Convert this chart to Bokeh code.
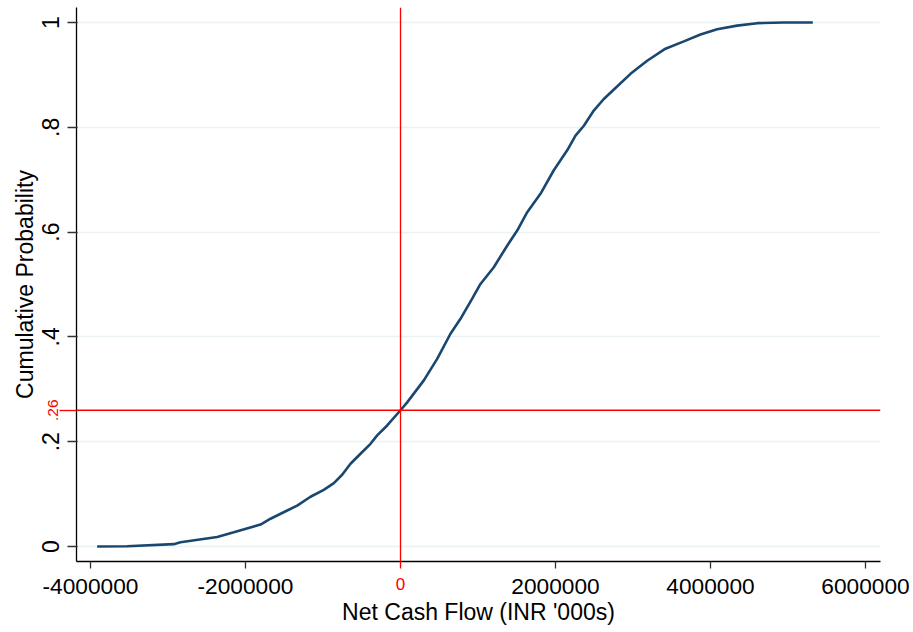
from bokeh.plotting import figure
from bokeh.models import Range1d, FixedTicker, Span, LinearAxis
from bokeh.embed import file_html
from bokeh.resources import INLINE

cash_flow = [-3914000, -3527000, -2925000, -2839000, -2365000, -2151000,
             -1806000, -1677000, -1462000, -1333000, -1161000, -990000,
             -860000, -753000, -645000, -516000, -387000, -301000, -172000,
             0, 86000, 301000, 473000, 645000, 774000, 925000,
             1032000, 1204000, 1376000, 1506000, 1635000, 1806000, 1978000,
             2151000, 2258000, 2366000, 2494000, 2623000, 2774000, 2968000,
             3183000, 3419000, 3656000, 3871000, 4086000, 4344000, 4602000,
             4946000, 5320000]
cum_prob = [0.000, 0.0006, 0.0045, 0.008, 0.018, 0.027,
            0.042, 0.053, 0.0687, 0.078, 0.095, 0.108,
            0.121, 0.137, 0.158, 0.177, 0.196, 0.212, 0.231,
            0.260, 0.275, 0.317, 0.358, 0.406, 0.4345, 0.473,
            0.501, 0.533, 0.574, 0.603, 0.638, 0.673, 0.718,
            0.756, 0.784, 0.803, 0.832, 0.854, 0.875, 0.902,
            0.927, 0.950, 0.964, 0.977, 0.987, 0.994, 0.9987,
            1.000, 1.000]

x_ticks = [-4000000, -2000000, 2000000, 4000000, 6000000]
x_tick_labels = ["-4000000", "-2000000", "2000000", "4000000", "6000000"]
y_ticks = [0, 0.2, 0.4, 0.6, 0.8, 1]
y_tick_labels = ["0", ".2", ".4", ".6", ".8", "1"]
ref_x = 0
ref_x_label = "0"
ref_y = 0.26
ref_y_label = ".26"

FONT = "Liberation Sans"
x0, x1 = -4180645, 6193548
y0, y1 = -0.0286, 1.0286

p = figure(width=913, height=632, output_backend="svg", toolbar_location=None,
           x_range=Range1d(x0, x1), y_range=Range1d(y0, y1),
           min_border_left=76, min_border_right=33, min_border_top=7,
           min_border_bottom=71)
p.outline_line_color = None
p.background_fill_color = "white"
p.border_fill_color = "white"

# grid
p.xgrid.visible = False
p.ygrid.ticker = FixedTicker(ticks=y_ticks)
p.ygrid.grid_line_color = "#eaf2f3"
p.ygrid.grid_line_width = 1.5


def style(ax, size, color):
    ax.minor_tick_line_color = None
    ax.minor_tick_in = 0
    ax.major_label_text_font = FONT
    ax.major_label_text_font_size = size
    ax.major_label_text_color = color
    ax.axis_label_text_font = FONT
    ax.axis_label_text_font_size = "23px"
    ax.axis_label_text_font_style = "normal"
    ax.axis_label_text_color = "black"


# --- axis next to the frame: red reference tick (x = 0) + black axis line
rx = p.xaxis[0]
rx.ticker = FixedTicker(ticks=[ref_x])
rx.major_label_overrides = {ref_x: ref_x_label}
style(rx, "17px", "red")
rx.axis_line_color = "black"
rx.axis_line_width = 1.3
rx.major_tick_line_color = "red"
rx.major_tick_line_width = 1.3
rx.major_tick_in = 0
rx.major_tick_out = 7
rx.minor_tick_out = 7
rx.major_label_standoff = 9
EX = 31  # estimated size of that axis (tick + standoff + label)

# --- main x axis (stacked outside, ticks reach back to the frame)
mx = LinearAxis(ticker=FixedTicker(ticks=x_ticks))
mx.major_label_overrides = {t: l for t, l in zip(x_ticks, x_tick_labels)}
style(mx, "22.7px", "black")
mx.axis_line_color = None
mx.major_tick_line_color = "#333333"
mx.major_tick_line_width = 1.3
mx.major_tick_in = EX
mx.major_tick_out = 7 - EX
mx.minor_tick_out = 7 - EX
mx.major_label_standoff = 17 - EX
mx.axis_label = "Net Cash Flow (INR '000s)"
mx.axis_label_standoff = 2
p.add_layout(mx, "below")

# --- axis next to the frame: red reference tick (y = .26) + black axis line
ry = p.yaxis[0]
ry.ticker = FixedTicker(ticks=[ref_y])
ry.major_label_overrides = {ref_y: ref_y_label}
style(ry, "15.5px", "red")
ry.major_label_orientation = "vertical"
ry.axis_line_color = "black"
ry.axis_line_width = 1.3
ry.major_tick_line_color = "red"
ry.major_tick_line_width = 1.3
ry.major_tick_in = 0
ry.major_tick_out = 17
ry.minor_tick_out = 17
ry.major_label_standoff = 1
EY = 32  # estimated size of that axis

# --- main y axis (stacked outside, ticks reach back to the frame)
my = LinearAxis(ticker=FixedTicker(ticks=y_ticks))
my.major_label_overrides = {t: l for t, l in zip(y_ticks, y_tick_labels)}
style(my, "23px", "black")
my.major_label_orientation = "vertical"
my.axis_line_color = None
my.major_tick_line_color = "#333333"
my.major_tick_line_width = 1.3
my.major_tick_in = EY
my.major_tick_out = 10 - EY
my.minor_tick_out = 10 - EY
my.major_label_standoff = 18 - EY
my.axis_label = "Cumulative Probability"
my.axis_label_standoff = 2
p.add_layout(my, "left")

# CDF curve
p.line(cash_flow, cum_prob, line_color="#1a476f", line_width=2.6)

# reference lines
p.add_layout(Span(location=ref_x, dimension="height", line_color="red", line_width=1.3))
p.add_layout(Span(location=ref_y, dimension="width", line_color="red", line_width=1.3))

open("out.html", "w").write(file_html(p, INLINE))
